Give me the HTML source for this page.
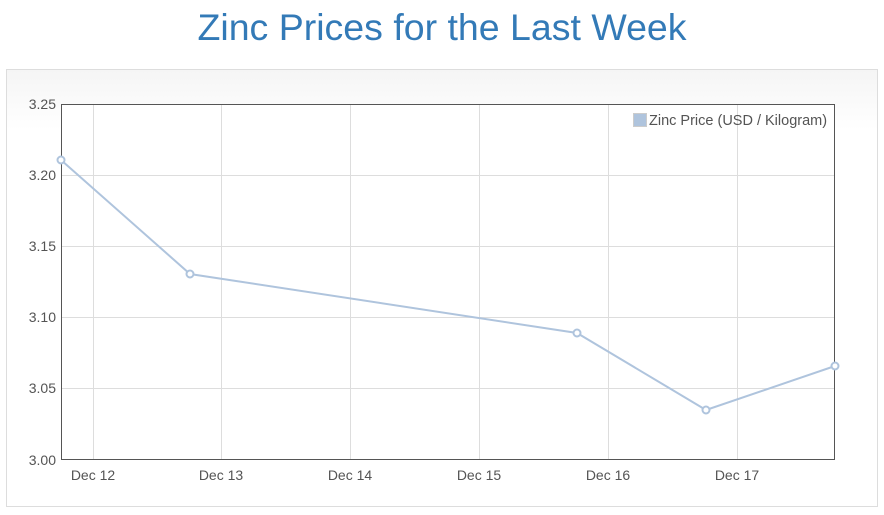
<!DOCTYPE html>
<html><head><style>
body{margin:0;width:884px;height:515px;background:#fff;font-family:"Liberation Sans",sans-serif;overflow:hidden;position:relative}
.t{position:absolute;top:6px;left:0;width:884px;text-align:center;font-size:37.5px;color:#337ab7}
.p{position:absolute;left:6px;top:69px;width:870px;height:436px;border:1px solid #ddd;background:linear-gradient(#f5f5f5,#fff 60px)}
</style></head><body>
<div class="t">Zinc Prices for the Last Week</div>
<div class="p"></div>
<svg width="884" height="515" style="position:absolute;left:0;top:0" font-family="Liberation Sans, sans-serif" font-size="14" fill="#545454">
<rect x="61" y="104" width="774" height="356" fill="#fff"/>
<g stroke="#ddd" stroke-width="1">
<line x1="61" x2="835" y1="175.5" y2="175.5"/><line x1="61" x2="835" y1="246.5" y2="246.5"/>
<line x1="61" x2="835" y1="317.5" y2="317.5"/><line x1="61" x2="835" y1="388.5" y2="388.5"/>
<line x1="93.5" x2="93.5" y1="104" y2="460"/><line x1="221.5" x2="221.5" y1="104" y2="460"/>
<line x1="350.5" x2="350.5" y1="104" y2="460"/><line x1="479.5" x2="479.5" y1="104" y2="460"/>
<line x1="608.5" x2="608.5" y1="104" y2="460"/><line x1="737.5" x2="737.5" y1="104" y2="460"/>
</g>
<rect x="61.5" y="104.5" width="773" height="355" fill="none" stroke="#555" stroke-width="1"/>
<g text-anchor="end"><text x="56" y="109">3.25</text><text x="56" y="180">3.20</text><text x="56" y="251">3.15</text><text x="56" y="322">3.10</text><text x="56" y="393">3.05</text><text x="56" y="465">3.00</text></g>
<g text-anchor="middle"><text x="93" y="480">Dec 12</text><text x="221" y="480">Dec 13</text><text x="350" y="480">Dec 14</text><text x="479" y="480">Dec 15</text><text x="608" y="480">Dec 16</text><text x="737" y="480">Dec 17</text></g>
<polyline points="61,160 190,274 577,333 706,410 835,366" fill="none" stroke="#afc4dd" stroke-width="2"/>
<g fill="#fff" stroke="#afc4dd" stroke-width="2"><circle cx="61" cy="160" r="3.5"/><circle cx="190" cy="274" r="3.5"/><circle cx="577" cy="333" r="3.5"/><circle cx="706" cy="410" r="3.5"/><circle cx="835" cy="366" r="3.5"/></g>
<rect x="633.5" y="113.5" width="13" height="13" fill="#afc4dd" stroke="#ccc"/>
<text x="649" y="125" font-size="14.5">Zinc Price (USD / Kilogram)</text>
</svg>
</body></html>
